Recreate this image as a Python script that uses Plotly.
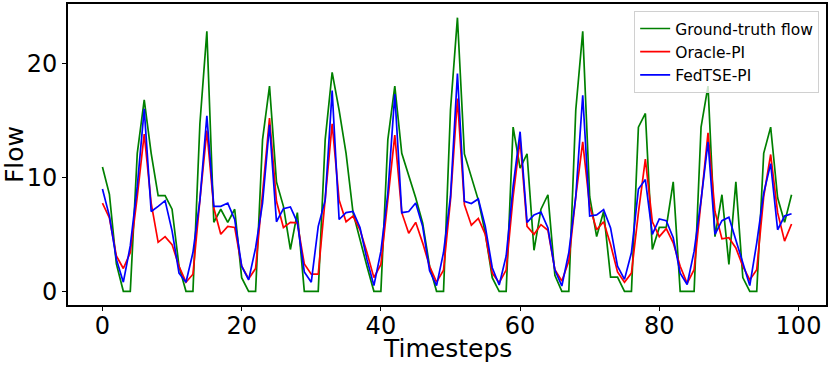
import plotly.graph_objects as go

timesteps = list(range(100))

ground_truth = [10.9, 8.5, 2.4, 0, 0, 12.1, 16.8, 12.1, 8.4, 8.4,
                7.2, 2.2, 0, 0, 14.7, 22.8, 6.05, 7.2, 6.05, 7.2,
                1.2, 0, 0, 13.3, 18.0, 9.6, 7.45, 3.67, 6.9, 0,
                0, 0, 13.3, 19.2, 15.9, 12.1, 6.9, 4.5, 2.2, 0,
                0, 13.3, 18.0, 12.1, 10.2, 8.2, 6.0, 2.2, 0, 0,
                15.9, 24.0, 12.05, 10.1, 8.0, 5.1, 1.2, 0, 0, 14.4,
                10.8, 12.05, 3.6, 7.2, 8.47, 1.4, 0, 0, 15.9, 22.8,
                8.3, 4.8, 7.0, 1.25, 1.25, 0, 0, 14.4, 15.6, 3.67,
                5.6, 5.6, 9.6, 0, 0, 0, 14.4, 18.0, 4.8, 8.47,
                2.36, 9.6, 1.2, 0, 0, 12.1, 14.4, 8.2, 6.05, 8.47]

oracle_pi = [7.74, 6.43, 3.1, 2.0, 3.4, 8.3, 13.8, 7.74, 4.3, 4.8,
             4.1, 2.2, 0.8, 1.5, 8.0, 14.1, 7.3, 5.0, 5.7, 5.6,
             2.2, 1.1, 2.0, 8.3, 15.2, 7.9, 5.6, 6.05, 6.0, 2.4,
             1.5, 1.5, 8.0, 14.7, 8.0, 6.1, 6.6, 5.4, 3.4, 1.2,
             2.36, 8.3, 13.7, 6.9, 5.1, 6.05, 4.25, 2.2, 0.8, 1.86,
             8.0, 16.9, 7.6, 5.8, 6.4, 5.0, 1.6, 0.75, 1.86, 8.3,
             13.3, 5.7, 5.0, 5.85, 5.35, 1.9, 0.9, 2.65, 8.3, 13.1,
             7.45, 5.4, 6.1, 4.1, 1.7, 0.8, 1.6, 6.9, 11.6, 6.1,
             4.8, 5.5, 4.25, 2.2, 0.7, 1.9, 8.0, 13.9, 7.0, 4.6,
             4.7, 3.8, 2.2, 1.0, 1.9, 8.3, 12.0, 6.9, 4.4, 5.9]

fedtse_pi = [8.97, 6.6, 2.8, 0.8, 4.0, 9.2, 16.0, 7.0, 7.45, 7.95,
             5.3, 1.6, 0.8, 3.4, 8.0, 15.4, 7.45, 7.45, 7.74, 6.3,
             2.2, 1.0, 3.8, 7.74, 14.6, 6.1, 7.25, 7.4, 6.05, 1.7,
             0.8, 5.7, 8.0, 17.6, 6.3, 6.9, 7.0, 5.6, 2.8, 0.5,
             3.5, 8.6, 17.3, 6.9, 7.0, 7.74, 5.7, 1.8, 0.5, 3.4,
             8.3, 19.1, 7.9, 7.7, 8.1, 5.7, 2.07, 0.55, 3.1, 9.2,
             14.0, 6.05, 6.7, 6.95, 5.56, 1.86, 0.47, 3.4, 8.3, 17.2,
             6.6, 6.7, 7.16, 5.56, 2.2, 1.05, 3.4, 8.97, 9.8, 5.0,
             6.35, 6.2, 4.7, 1.6, 0.6, 3.5, 8.0, 13.1, 5.0, 6.2,
             6.5, 4.5, 2.5, 0.5, 4.25, 8.6, 11.2, 5.4, 6.6, 6.8]

x_ticks = [0, 20, 40, 60, 80, 100]
y_ticks = [0, 10, 20]
x_title = "Timesteps"
y_title = "Flow"

fig = go.Figure()
fig.add_trace(go.Scatter(x=timesteps, y=ground_truth, mode="lines", name="Ground-truth flow",
                         line=dict(color="green", width=1.7)))
fig.add_trace(go.Scatter(x=timesteps, y=oracle_pi, mode="lines", name="Oracle-PI",
                         line=dict(color="red", width=1.7)))
fig.add_trace(go.Scatter(x=timesteps, y=fedtse_pi, mode="lines", name="FedTSE-PI",
                         line=dict(color="blue", width=1.7)))

axis_common = dict(showgrid=False, zeroline=False, showline=True, linecolor="black",
                   linewidth=2, mirror=True, ticks="outside", ticklen=4, tickwidth=1,
                   tickcolor="black", tickfont=dict(size=24, color="black"),
                   automargin=False)

fig.update_layout(
    width=830, height=366,
    margin=dict(l=68, r=4, t=4, b=61),
    paper_bgcolor="white", plot_bgcolor="white",
    font=dict(family="DejaVu Sans", color="black"),
    showlegend=True,
    legend=dict(x=0.991, y=0.977, xanchor="right", yanchor="top",
                bgcolor="rgba(255,255,255,0.8)", bordercolor="#d0d0d0", borderwidth=1,
                font=dict(size=15.5, color="black"), tracegroupgap=0, itemwidth=30),
    xaxis=dict(range=[-4.95, 103.95], tickvals=x_ticks, ticklabelstandoff=-6,
               **axis_common),
    yaxis=dict(range=[-1.2, 25.2], tickvals=y_ticks,
               title=dict(text=y_title, font=dict(size=25), standoff=2), **axis_common),
    annotations=[dict(text=x_title, xref="paper", yref="paper", x=0.5, y=-0.143,
                      xanchor="center", yanchor="middle", showarrow=False,
                      font=dict(size=25, color="black"))],
)

fig.write_html("out.html", config={"displayModeBar": False},
               post_script="document.body.style.margin='0';")
